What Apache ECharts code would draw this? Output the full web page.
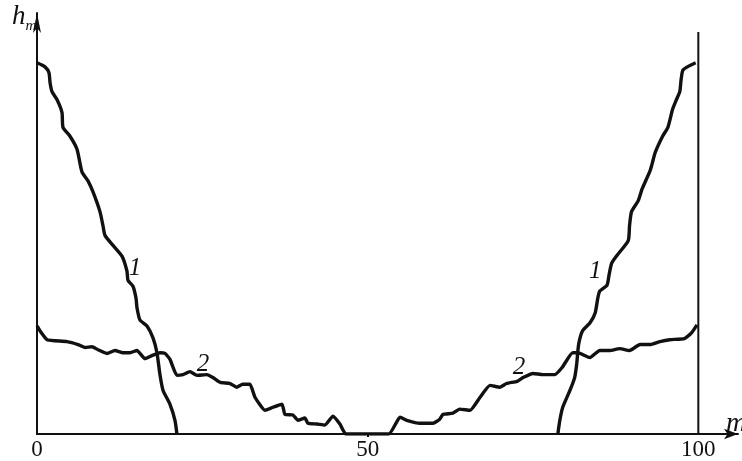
<!DOCTYPE html>
<html>
<head>
<meta charset="utf-8">
<script src="https://cdn.jsdelivr.net/npm/echarts@6/dist/echarts.min.js"></script>
<style>
html,body{margin:0;padding:0;background:#fff;}
#c{width:742px;height:461px;}
</style>
</head>
<body>
<div id="c"></div>
<script>
// x tick labels
const xTickValues = [0, 50, 100];

// curve 1 (left branch)
const curve1Left = [
  [0,100],[1.21,98.9],[1.81,97.3],[1.97,94.7],[2.27,92.2],[3.02,90.1],[3.78,86.6],
  [3.93,82.6],[4.99,80.2],[6.05,76.7],[6.8,70.6],[7.71,68.2],[8.47,65.2],[9.52,59.9],
  [9.98,56.1],[10.28,53.5],[11.49,50.8],[12.85,47.9],[13.6,43.9],[13.76,41.4],
  [14.51,39.8],[14.97,36.6],[15.12,34.0],[15.57,30.7],[16.63,29.1],[17.54,25.9],
  [18.14,21.9],[18.59,16.0],[19.05,11.8],[20.11,8.0],[20.86,3.7],[21.16,0]
];

// curve 1 (right branch)
const curve1Right = [
  [78.76,0],[79.06,3.7],[79.5,7.2],[80.6,11.8],[81.3,15.2],[81.6,18.7],[81.9,24.1],
  [82.5,27.8],[83.6,29.9],[84.4,32.6],[84.8,36.6],[85.1,38.5],[86.2,40.1],[86.5,42.8],
  [86.9,46.0],[87.7,48.1],[89.4,52.1],[89.6,56.1],[89.9,59.9],[90.9,62.8],[91.5,66.0],
  [92.7,70.9],[93.0,72.7],[93.5,75.9],[94.6,80.2],[95.4,82.6],[96.1,87.4],[96.7,90.1],
  [97.2,92.2],[97.4,95.5],[97.7,98.1],[99.6,100]
];

// curve 2
const curve2 = [
  [0,29.1],[0.45,27.8],[1.51,25.4],[2.72,25.1],[4.54,24.9],[6.2,24.1],[7.26,23.3],
  [8.31,23.5],[9.22,22.7],[10.58,21.7],[11.79,22.5],[13.0,21.9],[14.06,21.9],[15.12,22.5],
  [16.33,20.3],[17.38,21.1],[18.59,21.9],[19.35,21.7],[20.11,20.1],[21.16,15.8],
  [22.07,16.0],[23.13,16.8],[24.19,15.8],[25.7,16.0],[26.6,15.2],[27.7,13.9],[29.2,13.6],
  [30.2,12.6],[31.1,13.4],[32.2,13.4],[32.96,9.9],[34.47,6.4],[35.68,7.2],[37.04,8.0],
  [37.49,5.3],[38.7,5.1],[39.46,3.7],[40.51,4.3],[40.97,2.9],[42.33,2.7],[43.54,2.4],
  [44.75,4.8],[45.8,2.7],[46.7,0],[53.2,0],[54.9,4.5],[55.9,3.7],[57.9,2.9],[59.9,2.9],
  [60.9,4.0],[61.4,5.3],[62.9,5.6],[63.9,6.7],[65.5,6.4],[67.0,9.9],[68.5,13.1],
  [70.0,12.6],[71.0,13.6],[72.6,14.2],[73.5,15.2],[75.0,16.3],[76.5,16.0],[78.3,16.0],
  [79.4,17.9],[81.0,21.9],[81.8,21.9],[83.6,20.6],[85.1,22.5],[86.6,22.5],[88.1,23.0],
  [89.6,22.5],[91.2,24.1],[92.7,24.1],[94.2,24.9],[95.7,25.4],[97.9,25.7],[99.0,27.3],
  [99.8,29.4]
];

// right boundary line at m = 100
const rightBoundary = [[100,0],[100,108.3]];

// curve labels (text, data position)
const curveLabels = [
  ['1', 14.8, 44.7],
  ['1', 84.4, 43.9],
  ['2', 25.1, 18.7],
  ['2', 72.9, 17.9]
];

const chart = echarts.init(document.getElementById('c'), null, {renderer:'canvas'});
const lineStyle = {color:'#111', width:3.4};
const serif = '"Liberation Serif", "DejaVu Serif", serif';

chart.setOption({
  animation:false,
  backgroundColor:'#fff',
  grid:{left:37, right:4, top:13, bottom:24},
  xAxis:{
    type:'value', min:0, max:106, interval:50,
    axisLine:{show:true, lineStyle:{color:'#111', width:2}, symbol:['none','arrow'], symbolSize:[8,14], symbolOffset:[0,0]},
    axisTick:{show:true, inside:false, length:3, lineStyle:{color:'#111', width:2}, customValues:[50]},
    axisLabel:{
      color:'#111', fontFamily:serif, fontSize:23, margin:4,
      customValues: xTickValues,
      formatter: v => xTickValues.includes(v) ? String(v) : ''
    },
    splitLine:{show:false}
  },
  yAxis:{
    type:'value', min:0, max:113.4,
    axisLine:{show:true, lineStyle:{color:'#111', width:2}, symbol:['none','arrow'], symbolSize:[6,20]},
    axisTick:{show:false},
    axisLabel:{show:false},
    splitLine:{show:false}
  },
  series:[
    {type:'line', data:curve1Left, showSymbol:false, smooth:0.2, lineStyle:lineStyle},
    {type:'line', data:curve1Right, showSymbol:false, smooth:0.2, lineStyle:lineStyle},
    {type:'line', data:curve2, showSymbol:false, smooth:0.15, lineStyle:lineStyle},
    {type:'line', data:rightBoundary, showSymbol:false, lineStyle:{color:'#111', width:2}}
  ]
});

const g = curveLabels.map(([t, x, y]) => {
  const p = chart.convertToPixel({gridIndex:0}, [x, y]);
  return {type:'text', x:p[0], y:p[1], style:{text:t, fill:'#111', font:'italic 25px ' + serif, align:'center', verticalAlign:'middle'}};
});
g.push({type:'text', x:12, y:3, style:{
  text:'{h|h}{m|m}', fill:'#111',
  rich:{
    h:{fontFamily:serif, fontStyle:'italic', fontSize:27, fill:'#111', verticalAlign:'bottom'},
    m:{fontFamily:serif, fontStyle:'italic', fontSize:15, fill:'#111', verticalAlign:'bottom', padding:[0,0,-4,0]}
  }
}});
g.push({type:'text', x:726, y:410, style:{text:'m', fill:'#111', font:'italic 28px ' + serif}});
chart.setOption({graphic:g});
</script>
</body>
</html>
